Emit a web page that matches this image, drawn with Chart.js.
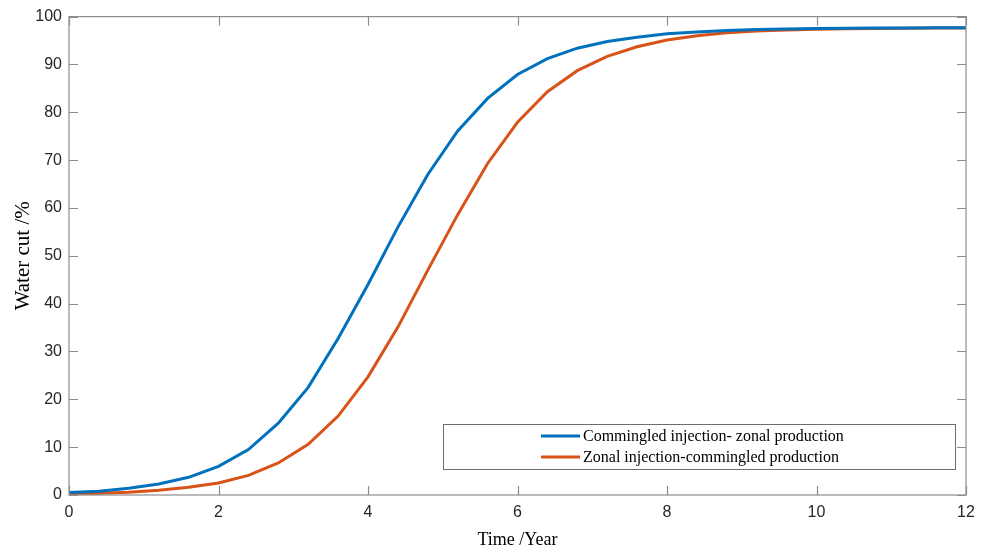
<!DOCTYPE html>
<html>
<head>
<meta charset="utf-8">
<script src="https://cdn.jsdelivr.net/npm/chart.js@4.4.1/dist/chart.umd.min.js"></script>
<style>
  html, body { margin: 0; padding: 0; background: #fff; }
  #wrap { width: 991px; height: 551px; }
</style>
</head>
<body>
<div id="wrap"><canvas id="waterCutChart" width="991" height="551"></canvas></div>
<script>
// Time in years, sampled every 0.4 year
const years = [0, 0.4, 0.8, 1.2, 1.6, 2.0, 2.4, 2.8, 3.2, 3.6, 4.0, 4.4, 4.8, 5.2, 5.6, 6.0,
               6.4, 6.8, 7.2, 7.6, 8.0, 8.4, 8.8, 9.2, 9.6, 10.0, 10.4, 10.8, 11.2, 11.6, 12.0];

// Water cut (%) for each scheme
const commingledInjection = [0.5, 0.8, 1.4, 2.3, 3.7, 6.0, 9.5, 15.0, 22.5, 32.7, 44.0, 56.0, 67.0, 76.1, 82.9, 87.9,
                             91.2, 93.4, 94.8, 95.7, 96.4, 96.8, 97.1, 97.3, 97.4, 97.5, 97.55, 97.6, 97.6, 97.65, 97.65];
const zonalInjection = [0.2, 0.35, 0.6, 1.0, 1.6, 2.5, 4.1, 6.7, 10.6, 16.5, 24.7, 35.1, 47.0, 58.6, 69.3, 77.9,
                        84.3, 88.7, 91.7, 93.7, 95.1, 96.0, 96.6, 97.0, 97.2, 97.35, 97.45, 97.5, 97.55, 97.6, 97.6];

const seriesLabels = ["Commingled injection- zonal production", "Zonal injection-commingled production"];
const seriesColors = ["#0072BD", "#D95319"];

const xTicks = [0, 2, 4, 6, 8, 10, 12];
const yTicks = [0, 10, 20, 30, 40, 50, 60, 70, 80, 90, 100];

function toPoints(xs, ys) {
    return xs.map((x, i) => ({ x: x, y: ys[i] }));
}

// Box around the axes with short inward ticks on all four sides
const boxTicksPlugin = {
    id: 'boxTicks',
    afterDatasetsDraw(chart) {
        const { ctx, chartArea: a, scales } = chart;
        const len = 9;
        ctx.save();
        ctx.strokeStyle = '#8c8c8c';
        ctx.lineWidth = 1.2;
        ctx.strokeRect(a.left, a.top, a.right - a.left, a.bottom - a.top);
        ctx.beginPath();
        xTicks.forEach(v => {
            const px = Math.round(scales.x.getPixelForValue(v)) + 0.5;
            ctx.moveTo(px, a.bottom); ctx.lineTo(px, a.bottom - len);
            ctx.moveTo(px, a.top); ctx.lineTo(px, a.top + len);
        });
        yTicks.forEach(v => {
            const py = Math.round(scales.y.getPixelForValue(v)) + 0.5;
            ctx.moveTo(a.left, py); ctx.lineTo(a.left + len, py);
            ctx.moveTo(a.right, py); ctx.lineTo(a.right - len, py);
        });
        ctx.stroke();
        ctx.restore();
    }
};

// Legend box in the lower right of the plot
const boxLegendPlugin = {
    id: 'boxLegend',
    afterDraw(chart) {
        const { ctx, chartArea: a } = chart;
        const boxLeft = a.left + 374, boxRight = a.right - 11;
        const boxTop = a.bottom - 71, boxBottom = a.bottom - 26;
        ctx.save();
        ctx.fillStyle = '#fff';
        ctx.fillRect(boxLeft, boxTop, boxRight - boxLeft, boxBottom - boxTop);
        ctx.strokeStyle = '#6e6e6e';
        ctx.lineWidth = 1;
        ctx.strokeRect(boxLeft + 0.5, boxTop + 0.5, boxRight - boxLeft, boxBottom - boxTop);
        ctx.font = '16px "Liberation Serif", "Times New Roman", serif';
        ctx.textBaseline = 'middle';
        ctx.fillStyle = '#000';
        chart.data.datasets.forEach((ds, i) => {
            const yRow = boxTop + 12 + i * 21;
            ctx.strokeStyle = ds.borderColor;
            ctx.lineWidth = 3;
            ctx.beginPath();
            ctx.moveTo(boxLeft + 98, yRow);
            ctx.lineTo(boxLeft + 137, yRow);
            ctx.stroke();
            ctx.fillText(ds.label, boxLeft + 140, yRow + 1);
        });
        ctx.restore();
    }
};

const ctx = document.getElementById('waterCutChart').getContext('2d');
new Chart(ctx, {
    type: 'line',
    data: {
        datasets: [
            {
                label: seriesLabels[0],
                data: toPoints(years, commingledInjection),
                borderColor: seriesColors[0],
                borderWidth: 3,
                pointRadius: 0,
                tension: 0
            },
            {
                label: seriesLabels[1],
                data: toPoints(years, zonalInjection),
                borderColor: seriesColors[1],
                borderWidth: 3,
                pointRadius: 0,
                tension: 0
            }
        ]
    },
    options: {
        responsive: false,
        animation: false,
        layout: { padding: { top: 14, right: 25, left: 0, bottom: 0 } },
        plugins: {
            legend: { display: false },
            tooltip: { enabled: false }
        },
        scales: {
            x: {
                type: 'linear',
                min: 0,
                max: 12,
                afterBuildTicks: scale => { scale.ticks = xTicks.map(v => ({ value: v })); },
                afterFit: scale => { scale.height = 56; },
                grid: { display: false, drawTicks: false },
                border: { display: false },
                ticks: {
                    padding: 8,
                    color: '#262626',
                    font: { family: '"Liberation Sans", Arial, sans-serif', size: 16 }
                },
                title: {
                    display: true,
                    text: 'Time /Year',
                    color: '#000',
                    padding: { top: 4, bottom: 0 },
                    font: { family: '"Liberation Serif", "Times New Roman", serif', size: 18 }
                }
            },
            y: {
                type: 'linear',
                min: 0,
                max: 100,
                afterBuildTicks: scale => { scale.ticks = yTicks.map(v => ({ value: v })); },
                afterFit: scale => { scale.width = 69; },
                grid: { display: false, drawTicks: false },
                border: { display: false },
                ticks: {
                    padding: 7,
                    color: '#262626',
                    font: { family: '"Liberation Sans", Arial, sans-serif', size: 16 }
                },
                title: {
                    display: true,
                    text: 'Water cut /%',
                    color: '#000',
                    padding: { top: 11, bottom: 4 },
                    font: { family: '"Liberation Serif", "Times New Roman", serif', size: 21 }
                }
            }
        }
    },
    plugins: [boxTicksPlugin, boxLegendPlugin]
});
</script>
</body>
</html>
